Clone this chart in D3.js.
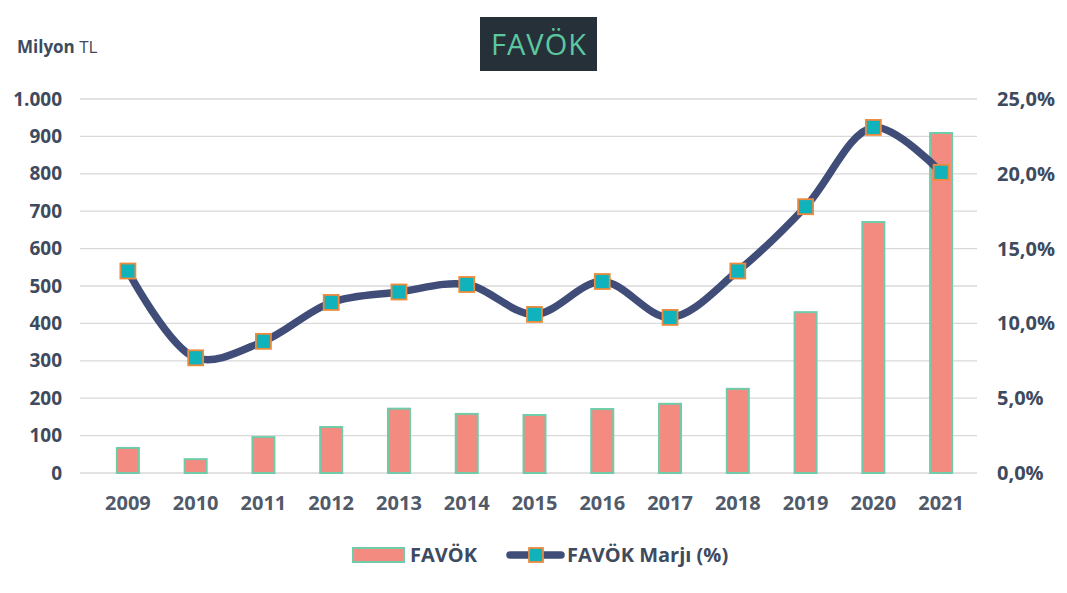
<!DOCTYPE html>
<html>
<head>
<meta charset="utf-8">
<script src="https://cdn.jsdelivr.net/npm/d3@7"></script>
<style>
  body { margin: 0; background: #fff; }
  text { font-family: "Open Sans", "Noto Sans", sans-serif; }
</style>
</head>
<body>
<div id="chart"></div>
<script>
// values
const years = ["2009","2010","2011","2012","2013","2014","2015","2016","2017","2018","2019","2020","2021"];
const favok = [67, 37, 96, 123, 172, 158, 155, 171, 185, 225, 430, 671, 909];
const marj = [13.5, 7.7, 8.8, 11.4, 12.1, 12.6, 10.6, 12.8, 10.4, 13.5, 17.8, 23.1, 20.1];
const leftTicks = [0, 100, 200, 300, 400, 500, 600, 700, 800, 900, 1000];
const rightTicks = [0, 5, 10, 15, 20, 25];

const width = 1067, height = 593;
const textColor = "#3E4A5E";

const svg = d3.select("#chart").append("svg")
  .attr("width", width)
  .attr("height", height);

const x = d3.scaleBand().domain(years).range([94, 975]);
const yL = d3.scaleLinear().domain([0, 1000]).range([473, 99]);
const yR = d3.scaleLinear().domain([0, 25]).range([473, 99]);

// gridlines
svg.append("g").selectAll("line")
  .data(leftTicks)
  .enter().append("line")
  .attr("x1", 80).attr("x2", 977)
  .attr("y1", d => yL(d)).attr("y2", d => yL(d))
  .attr("stroke", "#d9d9d9").attr("stroke-width", 1.3);

// left axis
const fmtL = d3.format(",");
const leftAxis = svg.append("g")
  .attr("transform", "translate(62,0)")
  .call(d3.axisLeft(yL).tickValues(leftTicks).tickSize(0).tickPadding(0)
    .tickFormat(d => fmtL(d).replace(",", ".")));
leftAxis.select(".domain").remove();
leftAxis.selectAll("text")
  .style("font-size", "19px").style("font-weight", "bold")
  .attr("fill", textColor);

// right axis
const rightAxis = svg.append("g")
  .attr("transform", "translate(997,0)")
  .call(d3.axisRight(yR).tickValues(rightTicks).tickSize(0).tickPadding(0)
    .tickFormat(d => d.toFixed(1).replace(".", ",") + "%"));
rightAxis.select(".domain").remove();
rightAxis.selectAll("text")
  .style("font-size", "20px").style("font-weight", "bold")
  .attr("fill", textColor);

// x axis
const xAxis = svg.append("g")
  .attr("transform", "translate(0,496)")
  .call(d3.axisBottom(x).tickSize(0).tickPadding(0));
xAxis.select(".domain").remove();
xAxis.selectAll("text")
  .attr("dy", "0.71em")
  .style("font-size", "20px").style("font-weight", "bold")
  .attr("fill", "#505a68");

// bars
const barW = 22;
svg.append("g").selectAll("rect")
  .data(favok)
  .enter().append("rect")
  .attr("x", (d, i) => x(years[i]) + x.bandwidth() / 2 - barW / 2)
  .attr("y", d => yL(d))
  .attr("width", barW)
  .attr("height", d => yL(0) - yL(d))
  .attr("fill", "#F48B80")
  .attr("stroke", "#6FCBA8")
  .attr("stroke-width", 2);

// smoothed line
const line = d3.line()
  .x((d, i) => x(years[i]) + x.bandwidth() / 2)
  .y(d => yR(d))
  .curve(d3.curveCatmullRom.alpha(0.5));

svg.append("path")
  .datum(marj)
  .attr("d", line)
  .attr("fill", "none")
  .attr("stroke", "#3F4D78")
  .attr("stroke-width", 7.5)
  .attr("stroke-linecap", "round");

// markers
const mk = 15;
svg.append("g").selectAll("rect")
  .data(marj)
  .enter().append("rect")
  .attr("x", (d, i) => x(years[i]) + x.bandwidth() / 2 - mk / 2)
  .attr("y", d => yR(d) - mk / 2)
  .attr("width", mk).attr("height", mk)
  .attr("fill", "#10B3BB")
  .attr("stroke", "#EE8A3C")
  .attr("stroke-width", 1.8);

// unit label
const unit = svg.append("text")
  .attr("x", 17).attr("y", 53)
  .style("font-size", "17px")
  .attr("fill", textColor);
unit.append("tspan").style("font-weight", "bold").text("Milyon");
unit.append("tspan").text(" TL");

// title box
svg.append("rect")
  .attr("x", 480).attr("y", 17)
  .attr("width", 117).attr("height", 54)
  .attr("fill", "#263039");
svg.append("text")
  .attr("x", 538.5).attr("y", 55)
  .attr("text-anchor", "middle")
  .style("font-size", "29px")
  .attr("textLength", 95)
  .attr("fill", "#5CC8A0")
  .text("FAVÖK");

// legend
const lg = svg.append("g");
lg.append("rect")
  .attr("x", 353).attr("y", 548)
  .attr("width", 51).attr("height", 14)
  .attr("fill", "#F48B80")
  .attr("stroke", "#6FCBA8").attr("stroke-width", 2);
lg.append("text")
  .attr("x", 410).attr("y", 562)
  .style("font-size", "20px").style("font-weight", "bold")
  .attr("fill", textColor)
  .text("FAVÖK");
lg.append("line")
  .attr("x1", 510).attr("x2", 561)
  .attr("y1", 555).attr("y2", 555)
  .attr("stroke", "#3F4D78").attr("stroke-width", 7.5)
  .attr("stroke-linecap", "round");
lg.append("rect")
  .attr("x", 529).attr("y", 548)
  .attr("width", 14).attr("height", 14)
  .attr("fill", "#10B3BB")
  .attr("stroke", "#EE8A3C").attr("stroke-width", 1.8);
lg.append("text")
  .attr("x", 567).attr("y", 562)
  .style("font-size", "20px").style("font-weight", "bold")
  .attr("fill", textColor)
  .text("FAVÖK Marjı (%)");
</script>
</body>
</html>
